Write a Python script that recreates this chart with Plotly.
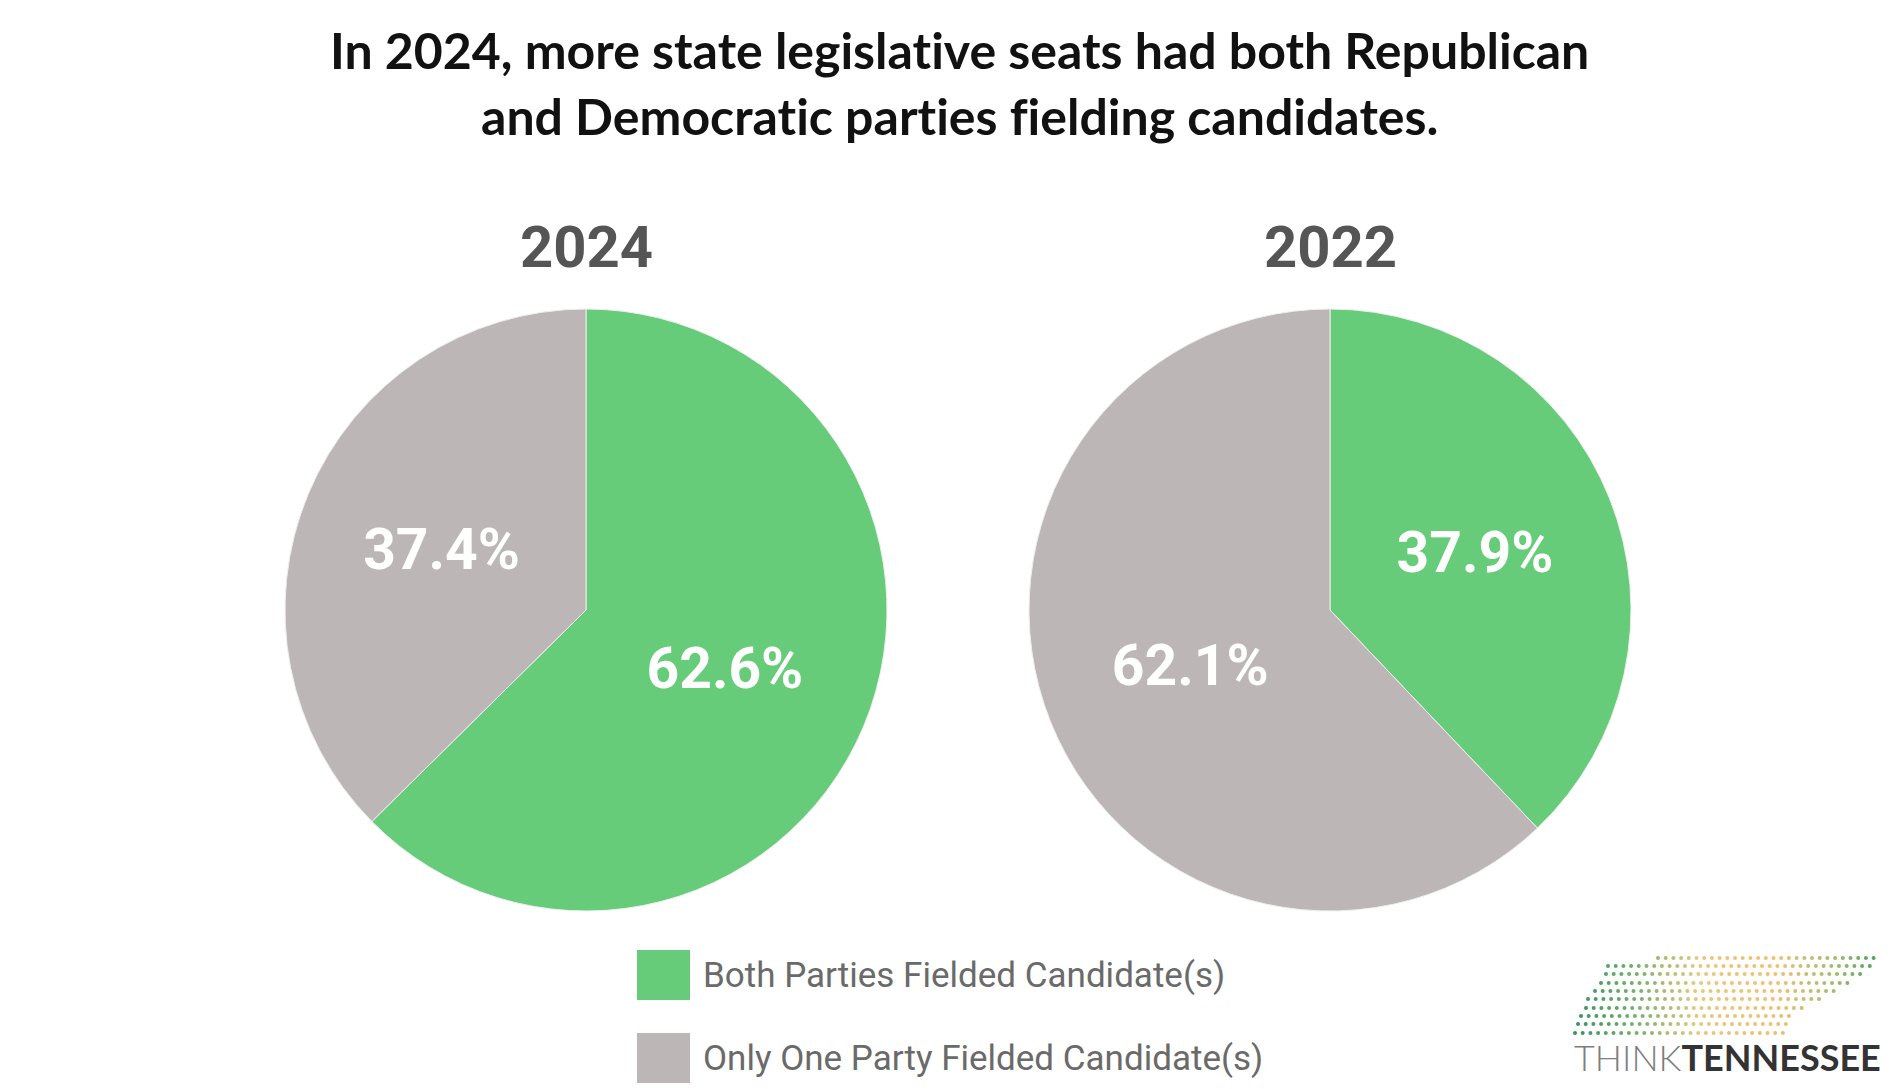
import plotly.graph_objects as go

# values
years = ["2024", "2022"]
categories = ["Both Parties Fielded Candidate(s)", "Only One Party Fielded Candidate(s)"]
share_2024 = [62.6, 37.4]
share_2022 = [37.9, 62.1]
colors = ["#66cc7a", "#bcb6b6"]

W, H = 1903, 1089


def px_x(x):
    return x / W


def px_y(y):
    return 1 - y / H


def pie_domain(cx, cy, r):
    return dict(x=[px_x(cx - r), px_x(cx + r)], y=[px_y(cy + r), px_y(cy - r)])


fig = go.Figure()

for values, (cx, cy) in [(share_2024, (578, 602)), (share_2022, (1322, 602))]:
    fig.add_trace(go.Pie(
        labels=categories,
        values=values,
        sort=False,
        direction="clockwise",
        rotation=0,
        marker=dict(colors=colors, line=dict(color="#eeeeee", width=1)),
        texttemplate="%{value:.1f}%",
        textposition="inside",
        insidetextorientation="horizontal",
        textfont=dict(family="Roboto", size=57, color="white", weight=700),
        domain=pie_domain(cx, cy, 301),
        showlegend=False,
        hovertemplate="%{label}: %{value:.1f}%<extra></extra>",
    ))

annotations = []

# title, two centred lines (ligatures off so "ti" renders as two letters)
title_lines = [
    "In 2024, more state legislative seats had both Republican",
    "and Democratic parties fielding candidates.",
]
for line, y in zip(title_lines, [42, 108]):
    annotations.append(dict(
        text="<span style='font-variant-ligatures:none'>" + line + "</span>",
        x=0.5, y=px_y(y), xref="paper", yref="paper",
        xanchor="center", yanchor="middle", showarrow=False,
        font=dict(family="Lato", size=50, color="#111111", weight=700),
    ))

# year headings over the pies
for year, cx in zip(years, [578, 1322]):
    annotations.append(dict(
        text=year, x=px_x(cx), y=px_y(239), xref="paper", yref="paper",
        xanchor="center", yanchor="middle", showarrow=False,
        font=dict(family="Roboto", size=58, color="#555555", weight=700),
    ))

# hand made legend with large swatches
shapes = []
for cat, col, cy in zip(categories, colors, [967, 1050]):
    shapes.append(dict(
        type="rect", xref="paper", yref="paper",
        x0=px_x(629), x1=px_x(682), y0=px_y(cy + 25), y1=px_y(cy - 25),
        fillcolor=col, line=dict(width=0),
    ))
    annotations.append(dict(
        text=cat, x=px_x(693), y=px_y(cy), xref="paper", yref="paper",
        xanchor="left", yanchor="middle", showarrow=False,
        font=dict(family="Roboto", size=35, color="#6a6a6a"),
    ))

# Think Tennessee logo: dotted state outline plus wordmark
logo_rows = [
    (950, 1650, 1872), (958, 1600, 1865), (966, 1598, 1858), (975, 1593, 1845),
    (983, 1587, 1832), (991, 1580, 1812), (1000, 1578, 1797), (1008, 1573, 1788),
    (1016, 1570, 1783), (1025, 1567, 1782),
]
stops = [(1560, (47, 143, 99)), (1630, (120, 178, 106)), (1690, (232, 200, 122)),
         (1770, (240, 192, 112)), (1825, (160, 190, 110)), (1880, (60, 152, 94))]


def dot_color(x):
    for (xa, ca), (xb, cb) in zip(stops, stops[1:]):
        if xa <= x <= xb:
            t = (x - xa) / (xb - xa)
            c = [round(a + (b - a) * t) for a, b in zip(ca, cb)]
            return "rgb({},{},{})".format(*c)
    return "rgb(60,152,94)"


for ry, xs, xe in logo_rows:
    x = xs
    while x <= xe:
        shapes.append(dict(
            type="circle", xref="paper", yref="paper",
            x0=px_x(x - 2), x1=px_x(x + 2), y0=px_y(ry + 2), y1=px_y(ry - 2),
            fillcolor=dot_color(x), line=dict(width=0),
        ))
        x += 7.7

annotations.append(dict(
    text="<span style='font-weight:300;fill:#7d7d7d'>THINK</span><b>TENNESSEE</b>",
    x=px_x(1564), y=px_y(1049), xref="paper", yref="paper",
    xanchor="left", yanchor="middle", showarrow=False,
    font=dict(family="Lato", size=36, color="#333333"),
))

fig.update_layout(
    width=W, height=H,
    margin=dict(l=0, r=0, t=0, b=0),
    paper_bgcolor="white",
    plot_bgcolor="white",
    annotations=annotations,
    shapes=shapes,
)

fig.write_html("out.html")
